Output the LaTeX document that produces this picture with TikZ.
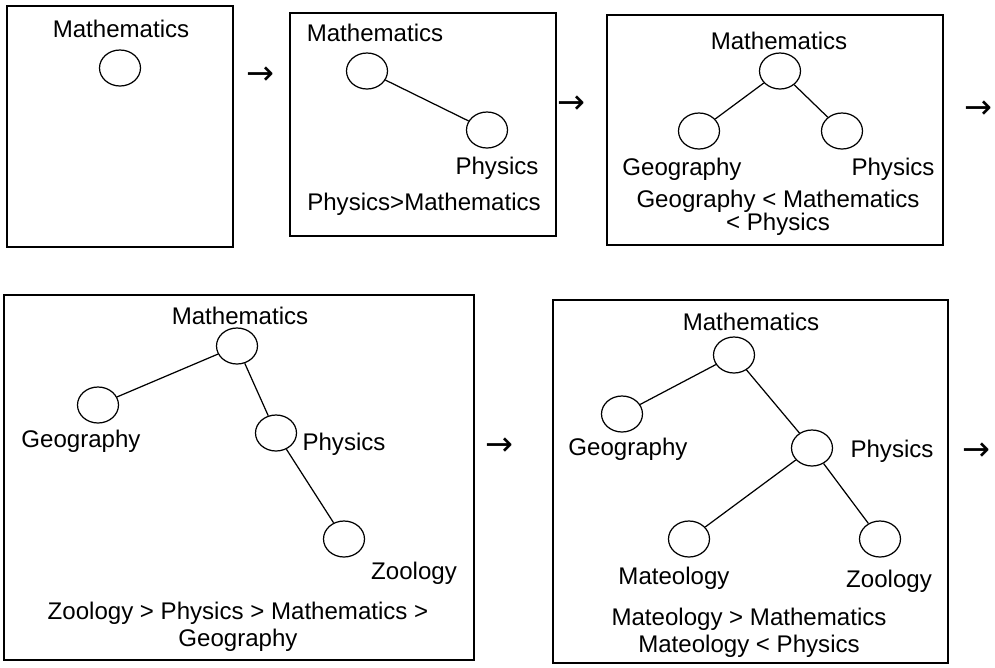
\documentclass[tikz,border=0pt]{standalone}
\usepackage{fontspec}
\setmainfont{Liberation Sans}
\newfontfamily\arrowfont{DejaVu Sans}
\usetikzlibrary{shapes.geometric,positioning}

\begin{document}
\begin{tikzpicture}[
    x=0.02cm, y=-0.02cm,
    panel/.style={draw, line width=0.9pt},
    subj/.style={draw, ellipse, line width=0.7pt, minimum width=0.82cm, minimum height=0.72cm, inner sep=0pt},
    lbl/.style={font=\fontsize{13.7pt}{15pt}\selectfont, inner sep=0pt, anchor=base, align=center},
    nxt/.style={font=\arrowfont\fontsize{19pt}{20pt}\selectfont, inner sep=0pt},
    link/.style={line width=0.7pt}
  ]
  \useasboundingbox (0,0) rectangle (995,667);
  % step 1
  \draw[panel] (7,6) rectangle (233,247);
  \node[subj] (m1) at (120,68) {};
  \node[lbl] (m1t) at (121,37) {Mathematics};
  \node[nxt] (n1) at (260,76) {→};
  % step 2
  \draw[panel] (290,13) rectangle (556,236);
  \node[subj] (m2) at (367,71) {};
  \node[subj] (p2) at (487,130) {};
  \node[lbl] (m2t) at (375,41) {Mathematics};
  \node[lbl] (p2t) at (497,174) {Physics};
  \node[lbl] (r2) at (424,210) {Physics>Mathematics};
  \draw[link] (m2) -- (p2);
  \node[nxt] (n2) at (571,105) {→};
  % step 3
  \draw[panel] (607,15) rectangle (943,245);
  \node[subj] (m3) at (780,71) {};
  \node[subj] (g3) at (699,131) {};
  \node[subj] (p3) at (842,131) {};
  \node[lbl] (m3t) at (779,49) {Mathematics};
  \node[lbl] (g3t) at (682,175) {Geography};
  \node[lbl] (p3t) at (893,175) {Physics};
  \node[lbl] (r3) at (778,230) {Geography < Mathematics\\[-2pt]< Physics};
  \draw[link] (m3) -- (g3);
  \draw[link] (m3) -- (p3);
  \node[nxt] (n3) at (978,110) {→};
  % step 4
  \draw[panel] (4,295) rectangle (474,660);
  \node[subj] (m4) at (237,346) {};
  \node[subj] (g4) at (98,405) {};
  \node[subj] (p4) at (276,433) {};
  \node[subj] (z4) at (344,539) {};
  \node[lbl] (m4t) at (240,324) {Mathematics};
  \node[lbl] (g4t) at (81,447) {Geography};
  \node[lbl] (p4t) at (344,450) {Physics};
  \node[lbl] (z4t) at (414,579) {Zoology};
  \node[lbl] (r4) at (238,646) {Zoology > Physics > Mathematics >\\Geography};
  \draw[link] (m4) -- (g4);
  \draw[link] (m4) -- (p4);
  \draw[link] (p4) -- (z4);
  \node[nxt] (n4) at (499,447) {→};
  % step 5
  \draw[panel] (553,300) rectangle (948,663);
  \node[subj] (m5) at (734,355) {};
  \node[subj] (g5) at (622,414) {};
  \node[subj] (p5) at (812,448) {};
  \node[subj] (t5) at (689,539) {};
  \node[subj] (z5) at (880,539) {};
  \node[lbl] (m5t) at (751,330) {Mathematics};
  \node[lbl] (g5t) at (628,455) {Geography};
  \node[lbl] (p5t) at (892,457) {Physics};
  \node[lbl] (t5t) at (674,584) {Mateology};
  \node[lbl] (z5t) at (889,587) {Zoology};
  \node[lbl] (r5) at (749,652) {Mateology > Mathematics\\Mateology < Physics};
  \draw[link] (m5) -- (g5);
  \draw[link] (m5) -- (p5);
  \draw[link] (p5) -- (t5);
  \draw[link] (p5) -- (z5);
  \node[nxt] (n5) at (976,452) {→};
\end{tikzpicture}
\end{document}
